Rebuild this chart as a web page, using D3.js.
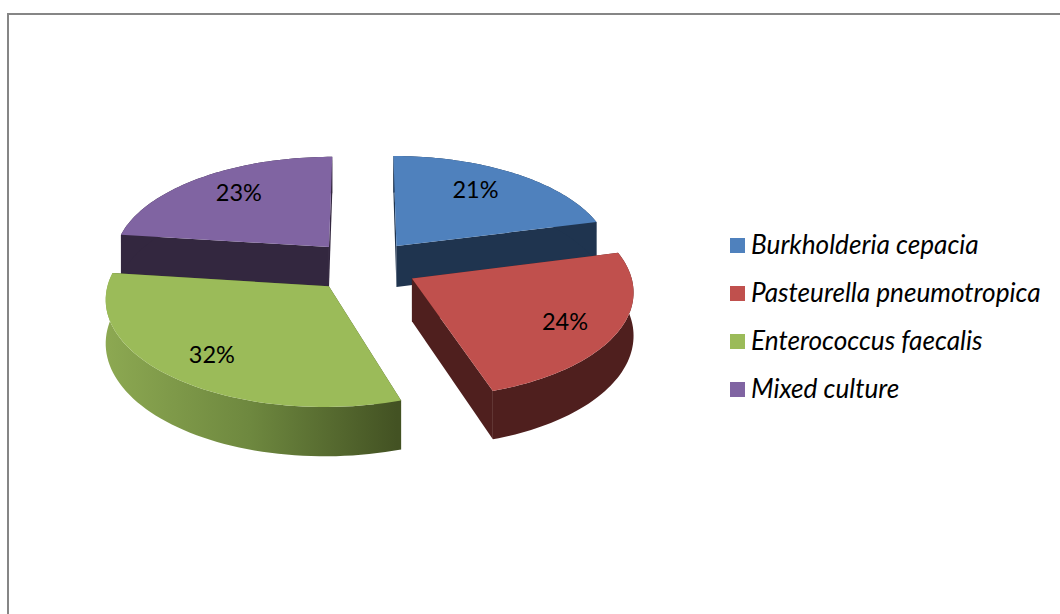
<!DOCTYPE html>
<html>
<head>
<meta charset="utf-8">
<script src="https://cdn.jsdelivr.net/npm/d3@7"></script>
<style>
    body { margin: 0; background: #fff; }
    svg { display: block; }
    text { font-family: Lato, "Open Sans", sans-serif; fill: #000; }
</style>
</head>
<body>
<div id="my-dataviz"></div>
<script>
const categories = ["Burkholderia cepacia", "Pasteurella pneumotropica", "Enterococcus faecalis", "Mixed culture"];
const percents = [21, 24, 32, 23];

const topColors = ["#4F81BD", "#C0504D", "#9BBB59", "#8064A2"];
const sideColors = ["#1F344F", "#4F1F1E", "url(#greenRim)", "#33273F"];
const drawOrder = [0, 3, 2, 1];
const labelNudge = [[-5.5, -5], [11.5, 5.5], [-10, 6], [1.5, -5]];

const width = 1060, height = 614;

// pie geometry, worked out from the picture
const cx = 364, cy = 266;
const radius = 217, explode = 54, depth = 42;
const tilt = 0.477, perspective = 0.000484;

const svg = d3.select("#my-dataviz")
    .append("svg")
    .attr("width", width)
    .attr("height", height);

// rim shading of the green slice goes from light on the left to dark on the right
const grad = svg.append("defs").append("linearGradient")
    .attr("id", "greenRim")
    .attr("gradientUnits", "userSpaceOnUse")
    .attr("x1", 103).attr("x2", 397).attr("y1", 0).attr("y2", 0);
grad.append("stop").attr("offset", "0%").attr("stop-color", "#8DA952");
grad.append("stop").attr("offset", "50%").attr("stop-color", "#6E883F");
grad.append("stop").attr("offset", "100%").attr("stop-color", "#435223");

// frame of the original figure, open on the right and at the bottom
svg.append("path")
    .attr("d", d3.line()([[8, height], [8, 14], [width, 14]]))
    .attr("fill", "none")
    .attr("stroke", "#868686")
    .attr("stroke-width", 2);

const slices = d3.pie().sort(null)(percents);

// flat disc point to screen, with a bit of perspective. level 1 = bottom of the disc
function project(wx, wz, level) {
    let s = 1 / (1 - perspective * wz);
    return [cx + wx * s, cy + tilt * wz * s + level * depth * Math.pow(s, 1.2)];
}

function apex(d) {
    let mid = (d.startAngle + d.endAngle) / 2;
    return [explode * Math.sin(mid), -explode * Math.cos(mid)];
}

function rimPoint(d, angle, r, level) {
    let a = apex(d);
    return project(a[0] + r * Math.sin(angle), a[1] - r * Math.cos(angle), level);
}

function arcPoints(d, level) {
    let n = 60;
    return d3.range(n + 1).map(i =>
        rimPoint(d, d.startAngle + (d.endAngle - d.startAngle) * i / n, radius, level));
}

const line = d3.line();
const g = svg.append("g");

drawOrder.forEach(i => {
    let d = slices[i];
    let slice = g.append("g");

    // the two cut faces
    [d.startAngle, d.endAngle].forEach(angle => {
        slice.append("path")
            .attr("d", line([
                rimPoint(d, angle, 0, 0), rimPoint(d, angle, radius, 0),
                rimPoint(d, angle, radius, 1), rimPoint(d, angle, 0, 1)
            ]) + "Z")
            .attr("fill", i === 2 ? "#435223" : sideColors[i]);
    });

    // outer rim
    slice.append("path")
        .attr("d", line(arcPoints(d, 0).concat(arcPoints(d, 1).reverse())) + "Z")
        .attr("fill", sideColors[i]);

    // top face
    slice.append("path")
        .attr("d", line([rimPoint(d, 0, 0, 0)].concat(arcPoints(d, 0))) + "Z")
        .attr("fill", topColors[i]);
});

// percent labels
g.selectAll("text")
    .data(slices)
    .enter()
    .append("text")
    .attr("x", (d, i) => rimPoint(d, (d.startAngle + d.endAngle) / 2, radius * 0.7, 0)[0] + labelNudge[i][0])
    .attr("y", (d, i) => rimPoint(d, (d.startAngle + d.endAngle) / 2, radius * 0.7, 0)[1] + labelNudge[i][1])
    .attr("text-anchor", "middle")
    .attr("dominant-baseline", "central")
    .attr("font-size", 23.5)
    .text(d => d.data + "%");

// legend
const legendY = d3.scalePoint().domain(categories).range([245.5, 389.5]);
const legend = svg.append("g");

legend.selectAll("rect")
    .data(categories)
    .enter()
    .append("rect")
    .attr("x", 730)
    .attr("y", d => legendY(d) - 7.5)
    .attr("width", 15)
    .attr("height", 15)
    .attr("fill", (d, i) => topColors[i]);

legend.selectAll("text")
    .data(categories)
    .enter()
    .append("text")
    .attr("x", 751)
    .attr("y", d => legendY(d) + 8)
    .attr("font-size", 26.2)
    .attr("font-style", "italic")
    .text(d => d);
</script>
</body>
</html>
